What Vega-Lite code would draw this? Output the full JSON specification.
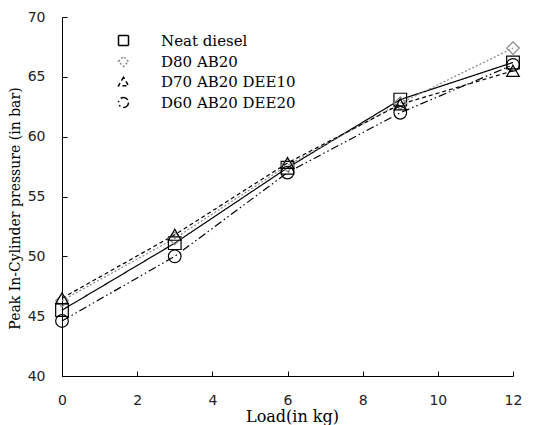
{
  "$schema": "https://vega.github.io/schema/vega-lite/v6.json",
  "autosize": "none",
  "width": 451,
  "height": 359,
  "padding": {"left": 62, "top": 17, "right": 21, "bottom": 49},
  "background": "white",
  "config": {"view": {"stroke": null}},
  "data": {"values": [
    {"series": "Neat diesel", "load": 0, "p": 45.5},
    {"series": "Neat diesel", "load": 3, "p": 51.1},
    {"series": "Neat diesel", "load": 6, "p": 57.4},
    {"series": "Neat diesel", "load": 9, "p": 63.1},
    {"series": "Neat diesel", "load": 12, "p": 66.2},
    {"series": "D80 AB20", "load": 0, "p": 46.3},
    {"series": "D80 AB20", "load": 3, "p": 51.5},
    {"series": "D80 AB20", "load": 6, "p": 57.6},
    {"series": "D80 AB20", "load": 9, "p": 62.8},
    {"series": "D80 AB20", "load": 12, "p": 67.4},
    {"series": "D70 AB20 DEE10", "load": 0, "p": 46.5},
    {"series": "D70 AB20 DEE10", "load": 3, "p": 51.8},
    {"series": "D70 AB20 DEE10", "load": 6, "p": 57.8},
    {"series": "D70 AB20 DEE10", "load": 9, "p": 62.7},
    {"series": "D70 AB20 DEE10", "load": 12, "p": 65.5},
    {"series": "D60 AB20 DEE20", "load": 0, "p": 44.6},
    {"series": "D60 AB20 DEE20", "load": 3, "p": 50.0},
    {"series": "D60 AB20 DEE20", "load": 6, "p": 57.0},
    {"series": "D60 AB20 DEE20", "load": 9, "p": 62.0},
    {"series": "D60 AB20 DEE20", "load": 12, "p": 66.0}
  ]},
  "encoding": {
    "x": {"field": "load", "type": "quantitative",
      "scale": {"domain": [0, 12], "nice": false, "zero": false},
      "axis": {"title": "Load(in kg)", "values": [0, 2, 4, 6, 8, 10, 12], "grid": false,
        "domainColor": "black", "domainWidth": 1, "tickColor": "black", "tickSize": -5,
        "labelFont": "DejaVu Sans", "labelFontSize": 14, "labelColor": "#222", "labelPadding": 22,
        "labelFlush": false,
        "titleFont": "DejaVu Serif", "titleFontSize": 16, "titleFontWeight": "normal", "titleColor": "black",
        "titleX": 230, "titleY": 32, "titleBaseline": "top", "titleAlign": "center"}},
    "y": {"field": "p", "type": "quantitative",
      "scale": {"domain": [40, 70], "nice": false, "zero": false},
      "axis": {"title": "Peak In-Cylinder pressure (in bar)", "values": [40, 45, 50, 55, 60, 65, 70], "grid": false,
        "domainColor": "black", "domainWidth": 1, "tickColor": "black", "tickSize": -5,
        "labelFont": "DejaVu Sans", "labelFontSize": 14, "labelColor": "#222", "labelPadding": 22,
        "labelFlush": false,
        "titleFont": "DejaVu Serif", "titleFontSize": 14, "titleFontWeight": "normal", "titleColor": "black",
        "titleX": -47, "titleY": 191, "titleAngle": -90, "titleBaseline": "middle", "titleAlign": "center"}}
  },
  "layer": [
    {
      "mark": {"type": "line", "strokeWidth": 1.2},
      "encoding": {
        "color": {"field": "series", "type": "nominal",
          "scale": {"domain": ["Neat diesel", "D80 AB20", "D70 AB20 DEE10", "D60 AB20 DEE20"], "range": ["black", "#888888", "black", "black"]}},
        "strokeDash": {"field": "series", "type": "nominal",
          "scale": {"domain": ["Neat diesel", "D80 AB20", "D70 AB20 DEE10", "D60 AB20 DEE20"], "range": [[1, 0], [2, 2], [4, 3], [8, 3, 1.5, 3, 1.5, 3]]}}
      }
    },
    {
      "mark": {"type": "point", "filled": false, "strokeWidth": 1.2, "opacity": 1, "size": 160},
      "encoding": {
        "color": {"field": "series", "type": "nominal"},
        "shape": {"field": "series", "type": "nominal",
          "scale": {"domain": ["Neat diesel", "D80 AB20", "D70 AB20 DEE10", "D60 AB20 DEE20"], "range": ["square", "diamond", "triangle-up", "circle"]},
          "legend": {"orient": "none", "legendX": 54, "legendY": 16, "padding": 0, "title": null,
            "symbolSize": 100, "rowPadding": 4, "labelOffset": 30,
            "labelFont": "DejaVu Serif", "labelFontSize": 15, "labelColor": "black"
          }}
      }
    }
  ]
}
